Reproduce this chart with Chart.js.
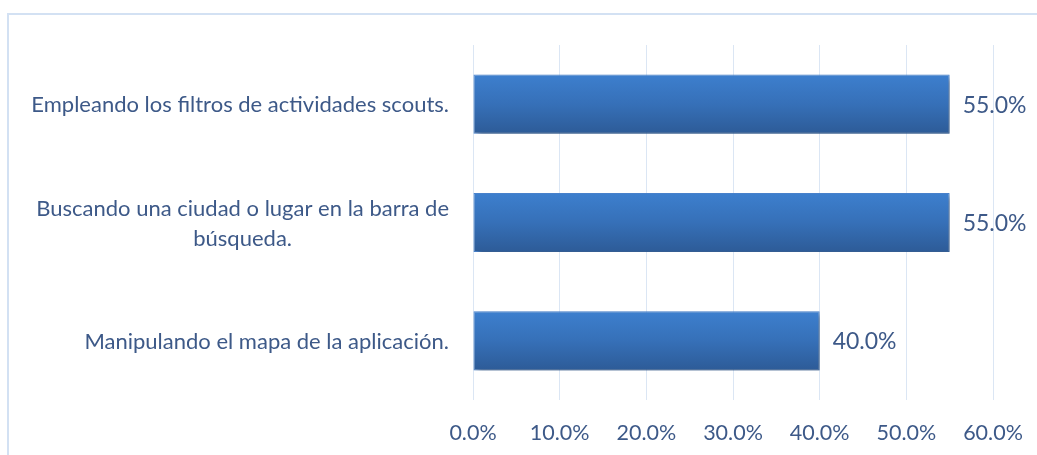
<!DOCTYPE html>
<html>
<head>
<meta charset="utf-8">
<script src="https://cdn.jsdelivr.net/npm/chart.js@4.4.1/dist/chart.umd.min.js"></script>
<style>
  html, body { margin: 0; padding: 0; background: #ffffff; }
  #wrap { position: relative; width: 1037px; height: 455px; overflow: hidden; }
  #frame {
    position: absolute; left: 7px; top: 13px; width: 1100px; height: 500px;
    border-left: 2px solid #d3e1f3; border-top: 2px solid #d3e1f3;
    box-sizing: border-box;
  }
  #chart { position: absolute; left: 0; top: 0; }
</style>
</head>
<body>
<div id="wrap">
  <div id="frame"></div>
  <canvas id="chart" width="1037" height="455"></canvas>
</div>
<script>
// Categories (one array of lines per label), shares in percent, axis ticks
const categories = [
  ['Empleando los filtros de actividades scouts.'],
  ['Buscando una ciudad o lugar en la barra de', 'búsqueda.'],
  ['Manipulando el mapa de la aplicación.']
];
const shares = [55.0, 55.0, 40.0];
const axisTicks = [0, 10, 20, 30, 40, 50, 60];

const TEXT = '#3d5988';
const FONT = 'Lato, "Open Sans", sans-serif';

// Vertical gradient for each bar, built around its category position
function barFill(ctx) {
  const chart = ctx.chart;
  const y = chart.scales.y;
  const fallback = '#3672bd';
  if (!y || ctx.dataIndex === undefined) return fallback;
  const c = y.getPixelForValue(ctx.dataIndex);
  const half = y.height / categories.length * 0.25;
  if (!isFinite(c) || !isFinite(half) || half <= 0) return fallback;
  const g = chart.ctx.createLinearGradient(0, c - half, 0, c + half);
  g.addColorStop(0, '#3d7fce');
  g.addColorStop(0.5, '#3670b8');
  g.addColorStop(1, '#2d5b97');
  return g;
}

// Soft drop shadow under the bars
const barShadow = {
  id: 'barShadow',
  beforeDatasetsDraw(chart) {
    const c = chart.ctx;
    c.save();
    c.shadowColor = 'rgba(0,0,0,0.38)';
    c.shadowBlur = 5;
    c.shadowOffsetX = 3;
    c.shadowOffsetY = 3;
  },
  afterDatasetsDraw(chart) {
    chart.ctx.restore();
  }
};

// Value labels to the right of the bars and category labels on the left
const labelsPlugin = {
  id: 'labelsPlugin',
  afterDraw(chart) {
    const c = chart.ctx;
    const meta = chart.getDatasetMeta(0);
    c.save();
    c.fillStyle = TEXT;
    c.textBaseline = 'middle';
    c.textAlign = 'left';
    c.font = '23px ' + FONT;
    meta.data.forEach((bar, i) => {
      c.fillText(shares[i].toFixed(1) + '%', bar.x + 13, bar.y + 1);
    });
    c.font = '22px ' + FONT;
    const yScale = chart.scales.y;
    const right = chart.chartArea.left - 24;
    const lineGap = 30;
    categories.forEach((lines, i) => {
      const cy = yScale.getPixelForValue(i);
      const maxW = Math.max(...lines.map(l => c.measureText(l).width));
      const cx = right - maxW / 2;
      c.textAlign = 'center';
      const start = cy - (lines.length - 1) * lineGap / 2;
      lines.forEach((l, k) => c.fillText(l, cx, start + k * lineGap + 1));
    });
    c.restore();
  }
};

new Chart(document.getElementById('chart'), {
  type: 'bar',
  data: {
    labels: categories.map(l => l.join(' ')),
    datasets: [{
      data: shares,
      backgroundColor: barFill,
      borderColor: '#4a84cf',
      borderWidth: 1,
      borderSkipped: false,
      barPercentage: 0.5,
      categoryPercentage: 1.0
    }]
  },
  options: {
    indexAxis: 'y',
    responsive: false,
    animation: false,
    layout: { padding: { left: 473, right: 44, top: 45, bottom: 9 } },
    plugins: { legend: { display: false }, tooltip: { enabled: false } },
    scales: {
      x: {
        min: 0, max: 60,
        afterBuildTicks(axis) { axis.ticks = axisTicks.map(v => ({ value: v })); },
        afterFit(axis) {
          axis.height = 46;
          axis.paddingLeft = 0;
          axis.paddingRight = 0;
        },
        grid: { color: '#dbe6f4', lineWidth: 1, drawTicks: false },
        border: { display: false },
        ticks: {
          padding: 20,
          maxRotation: 0,
          minRotation: 0,
          autoSkip: false,
          color: TEXT,
          font: { family: FONT, size: 21.5 },
          callback: v => v.toFixed(1) + '%'
        }
      },
      y: {
        display: false
      }
    }
  },
  plugins: [barShadow, labelsPlugin]
});
</script>
</body>
</html>
